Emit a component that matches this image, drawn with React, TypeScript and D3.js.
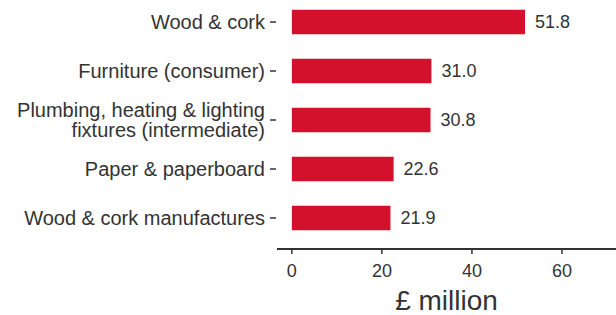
import * as d3 from "d3";
import { useEffect } from "react";

const categories = [
    "Wood & cork",
    "Furniture (consumer)",
    "Plumbing, heating & lighting\nfixtures (intermediate)",
    "Paper & paperboard",
    "Wood & cork manufactures",
];
const values = [51.8, 31.0, 30.8, 22.6, 21.9];
const xTicks = [0, 20, 40, 60];
const xTitle = "£ million";

const App = () => {
    const width = 616;
    const height = 315;
    const panelLeft = 277;
    const panelRight = 616;
    const axisY = 249;
    const font = "'Liberation Sans', Arial, sans-serif";
    const textColor = "#333333";
    const barColor = "#d3112c";

    useEffect(() => {
        document.body.style.margin = "0";
    }, []);

    const x = d3.scaleLinear().domain([-3.3, 72]).range([panelLeft, panelRight]);
    const y = d3.scaleBand<string>()
        .domain(categories)
        .range([-2.5, 242.5])
        .paddingInner(0.5)
        .paddingOuter(0.25);

    const lineH = 20;

    return (
        <svg width={width} height={height} style={{ display: "block" }} fontFamily={font}>
            {/* bars */}
            {categories.map((c, i) => (
                <rect
                    key={c}
                    x={x(0)}
                    y={y(c)}
                    width={x(values[i]) - x(0)}
                    height={y.bandwidth()}
                    fill={barColor}
                />
            ))}
            {/* value labels */}
            {categories.map((c, i) => (
                <text
                    key={c}
                    x={x(values[i]) + 10}
                    y={(y(c) ?? 0) + y.bandwidth() / 2 + 6}
                    fontSize={18}
                    fill={textColor}
                >
                    {values[i].toFixed(1)}
                </text>
            ))}
            {/* y axis ticks + labels */}
            {categories.map((c) => {
                const cy = (y(c) ?? 0) + y.bandwidth() / 2;
                const lines = c.split("\n");
                return (
                    <g key={c}>
                        <line x1={270} x2={276} y1={cy} y2={cy} stroke={textColor} strokeWidth={1.5} />
                        <text x={265} textAnchor="end" fontSize={20} fill={textColor}>
                            {lines.map((l, j) => (
                                <tspan key={j} x={265} y={cy + 6.5 + (j - (lines.length - 1) / 2) * lineH}>{l}</tspan>
                            ))}
                        </text>
                    </g>
                );
            })}
            {/* x axis */}
            <line x1={panelLeft} x2={panelRight} y1={axisY} y2={axisY} stroke={textColor} strokeWidth={2} />
            {xTicks.map((t) => (
                <g key={t}>
                    <line x1={x(t)} x2={x(t)} y1={axisY} y2={axisY + 5} stroke={textColor} strokeWidth={1.5} />
                    <text x={x(t)} y={277} textAnchor="middle" fontSize={18} fill={textColor}>{t}</text>
                </g>
            ))}
            <text x={(panelLeft + panelRight) / 2} y={310} textAnchor="middle" fontSize={28} fill={textColor}>
                {xTitle}
            </text>
        </svg>
    );
};

export default App;
